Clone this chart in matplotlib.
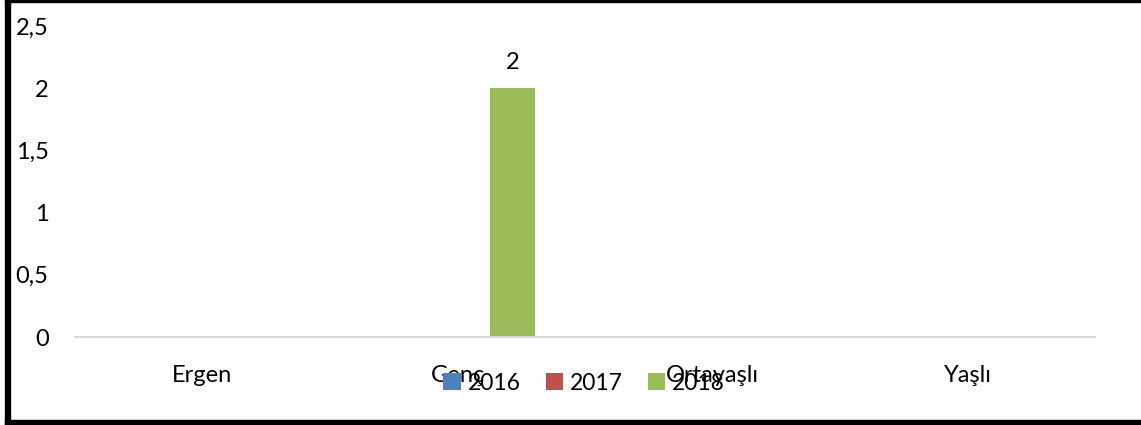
import matplotlib
matplotlib.use("Agg")
import matplotlib.pyplot as plt
from matplotlib.patches import Rectangle
import numpy as np

categories = ["Ergen", "Genç", "Ortayaşlı", "Yaşlı"]
series_names = ["2016", "2017", "2018"]
values_2016 = [0, 0, 0, 0]
values_2017 = [0, 0, 0, 0]
values_2018 = [0, 2, 0, 0]
yticks = [0, 0.5, 1, 1.5, 2, 2.5]
ytick_labels = ["0", "0,5", "1", "1,5", "2", "2,5"]
colors = ["#4f81bd", "#c0504d", "#9bbb59"]

plt.rcParams['font.family'] = ['Lato', 'DejaVu Sans']

fig = plt.figure(figsize=(11.41, 4.25), dpi=100)
ax = fig.add_axes([75/1141, (425-337)/425, 1020/1141, (337-26)/425])

x = np.arange(len(categories))
offset = 55/255
width = 45/255
series = [values_2016, values_2017, values_2018]
for i, (vals, name, c) in enumerate(zip(series, series_names, colors)):
    bars = ax.bar(x + (i-1)*offset, vals, width, color=c, label=name, zorder=2)
    for b, v in zip(bars, vals):
        if v > 0:
            ax.text(b.get_x()+b.get_width()/2, v + 0.12, f"{v:g}", ha='center', va='bottom', fontsize=17)

ax.set_xlim(-0.5, len(categories)-0.5)
ax.set_ylim(0, 2.5)
ax.set_yticks(yticks)
ax.set_yticklabels(ytick_labels, fontsize=17)
ax.set_xticks(x)
ax.set_xticklabels(categories, fontsize=17)
ax.tick_params(axis='y', length=0, pad=19)
ax.tick_params(axis='x', length=0, pad=20)
for s in ['top', 'right', 'left']:
    ax.spines[s].set_visible(False)
ax.spines['bottom'].set_color('#d9d9d9')
ax.spines['bottom'].set_linewidth(1.5)

leg = fig.legend(loc='center', bbox_to_anchor=(584/1141, (425-383)/425), ncol=3, frameon=False,
                 fontsize=16.5, handlelength=0.75, handleheight=0.75, handletextpad=0.3, columnspacing=1.1)

# border
fig.patches.append(Rectangle((5/1141, 0), 5/1141, 1, transform=fig.transFigure, color='black', zorder=10))
fig.patches.append(Rectangle((5/1141, 0), 1 - 5/1141, 5/425, transform=fig.transFigure, color='black', zorder=10))
fig.patches.append(Rectangle((5/1141, 1 - 1.5/425), 1 - 5/1141, 1.5/425, transform=fig.transFigure, color='black', zorder=10))

fig.savefig("out.png", dpi=100)
